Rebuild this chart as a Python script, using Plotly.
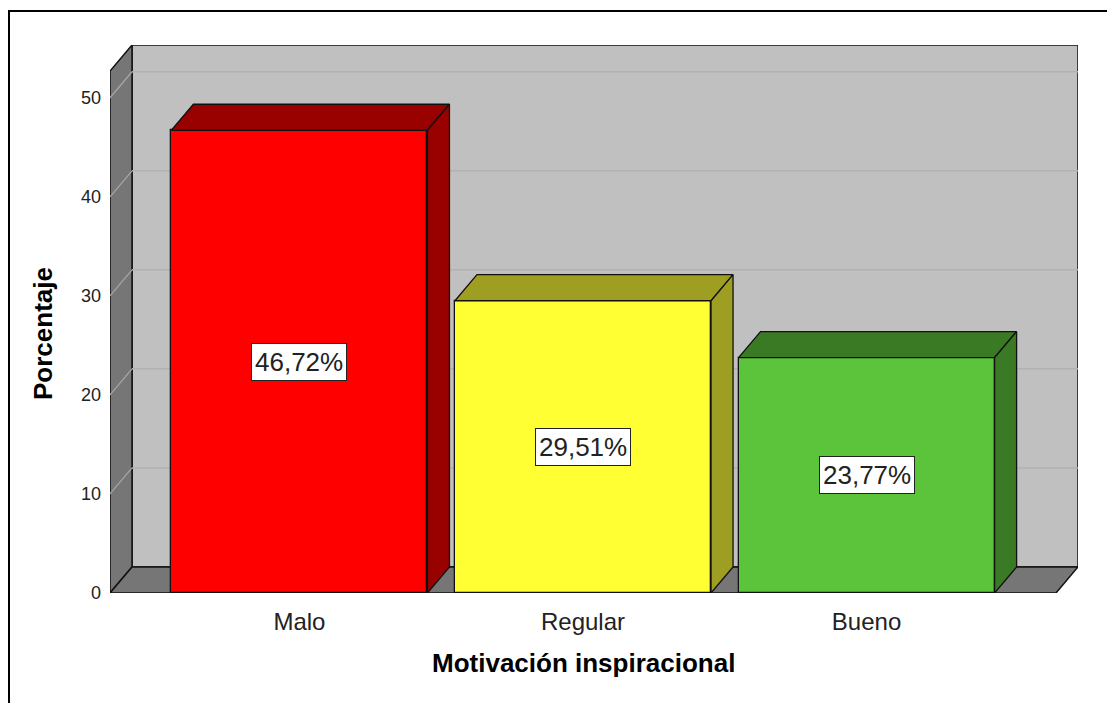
import plotly.graph_objects as go

# Data
categories = ["Malo", "Regular", "Bueno"]
percentages = [46.72, 29.51, 23.77]
value_labels = ["46,72%", "29,51%", "23,77%"]
y_ticks = [0, 10, 20, 30, 40, 50]

# Colours (front face, shaded top/side faces)
front_colors = ["#FF0000", "#FFFF33", "#5CC43A"]
shade_colors = ["#990000", "#9E9E22", "#3B7A24"]

# 3D box geometry in axis units
BAR_W = 0.903          # bar width in category units
DX = 0.0776            # depth offset along x
DY = 2.63              # depth offset along y
X_LO = -0.668          # left edge of the floor / left wall
X_HI_FRONT = 2.668     # right edge of the floor front
Y_TOP_FRONT = 52.7     # top of the left wall at the front
X_HI = X_HI_FRONT + DX
Y_HI = Y_TOP_FRONT + DY

FONT = "Arial, Liberation Sans, sans-serif"
EDGE = "#111111"

fig = go.Figure()

# Back wall, left wall and floor
shapes = [
    dict(type="rect", xref="x", yref="y", x0=X_LO + DX, x1=X_HI, y0=DY, y1=Y_HI,
         fillcolor="#C0C0C0", line=dict(color=EDGE, width=1.5), layer="below"),
    dict(type="path", xref="x", yref="y",
         path=f"M {X_LO},0 L {X_LO},{Y_TOP_FRONT} L {X_LO+DX},{Y_HI} L {X_LO+DX},{DY} Z",
         fillcolor="#767676", line=dict(color=EDGE, width=1.5), layer="below"),
    dict(type="path", xref="x", yref="y",
         path=f"M {X_LO},0 L {X_HI_FRONT},0 L {X_HI},{DY} L {X_LO+DX},{DY} Z",
         fillcolor="#767676", line=dict(color=EDGE, width=1.5), layer="below"),
]
# Gridlines: diagonal across the left wall, horizontal across the back wall
for v in y_ticks[1:]:
    shapes.append(dict(type="line", xref="x", yref="y", x0=X_LO, y0=v, x1=X_LO + DX, y1=v + DY,
                       line=dict(color="#A8A8A8", width=1.2), layer="below"))
    shapes.append(dict(type="line", xref="x", yref="y", x0=X_LO + DX, y0=v + DY, x1=X_HI, y1=v + DY,
                       line=dict(color="#B2B2B2", width=1.5), layer="below"))
# Outer frame
shapes.append(dict(type="rect", xref="paper", yref="paper",
                   x0=(9 - 110) / 968, x1=1.04, y0=-0.21, y1=(593 - 11) / 548,
                   line=dict(color="#000000", width=2), fillcolor="rgba(0,0,0,0)"))

# Bars: shaded top and side faces, then front face
for i, (v, fc, sc) in enumerate(zip(percentages, front_colors, shade_colors)):
    xl, xr = i - BAR_W / 2, i + BAR_W / 2
    fig.add_trace(go.Scatter(
        x=[xl, xr, xr + DX, xl + DX, xl], y=[v, v, v + DY, v + DY, v],
        fill="toself", fillcolor=sc, mode="lines", line=dict(color=EDGE, width=1.3),
        hoverinfo="skip", showlegend=False))
    fig.add_trace(go.Scatter(
        x=[xr, xr + DX, xr + DX, xr, xr], y=[0, DY, v + DY, v, 0],
        fill="toself", fillcolor=sc, mode="lines", line=dict(color=EDGE, width=1.3),
        hoverinfo="skip", showlegend=False))

fig.add_trace(go.Bar(
    x=list(range(len(categories))), y=percentages, width=BAR_W,
    marker=dict(color=front_colors, line=dict(color=EDGE, width=1.3)),
    hoverinfo="skip", showlegend=False))

# Value labels in the middle of each front face
annotations = []
for i, (v, lab) in enumerate(zip(percentages, value_labels)):
    annotations.append(dict(x=i, y=v / 2, xref="x", yref="y", text=lab, showarrow=False,
                            xanchor="center", yanchor="middle",
                            font=dict(family=FONT, size=26, color="#222222"),
                            bgcolor="#FFFFFF", bordercolor="#222222", borderwidth=1, borderpad=3))

# Axis titles
annotations.append(dict(x=(583 - 110) / 968, y=(593 - 663) / 548, xref="paper", yref="paper",
                        xanchor="center", yanchor="middle",
                        text="<b>Motivación inspiracional</b>", showarrow=False,
                        font=dict(family=FONT, size=26, color="#000000")))
annotations.append(dict(x=(43 - 110) / 968, y=(593 - 334) / 548, xref="paper", yref="paper",
                        xanchor="center", yanchor="middle",
                        text="<b>Porcentaje</b>", showarrow=False, textangle=-90,
                        font=dict(family=FONT, size=26, color="#000000")))

fig.update_layout(
    width=1107, height=703,
    margin=dict(l=110, r=29, t=45, b=110),
    paper_bgcolor="#FFFFFF", plot_bgcolor="#FFFFFF",
    shapes=shapes, annotations=annotations,
    bargap=0,
    xaxis=dict(range=[X_LO, X_HI], tickvals=list(range(len(categories))), ticktext=categories,
               showgrid=False, zeroline=False, showline=False, ticks="",
               tickfont=dict(family=FONT, size=24, color="#222222"), ticklabelstandoff=12),
    yaxis=dict(range=[0, Y_HI], tickvals=y_ticks, showgrid=False, zeroline=False,
               showline=False, ticks="",
               tickfont=dict(family=FONT, size=18, color="#222222"), ticklabelstandoff=8),
)

fig.write_html("out.html")
